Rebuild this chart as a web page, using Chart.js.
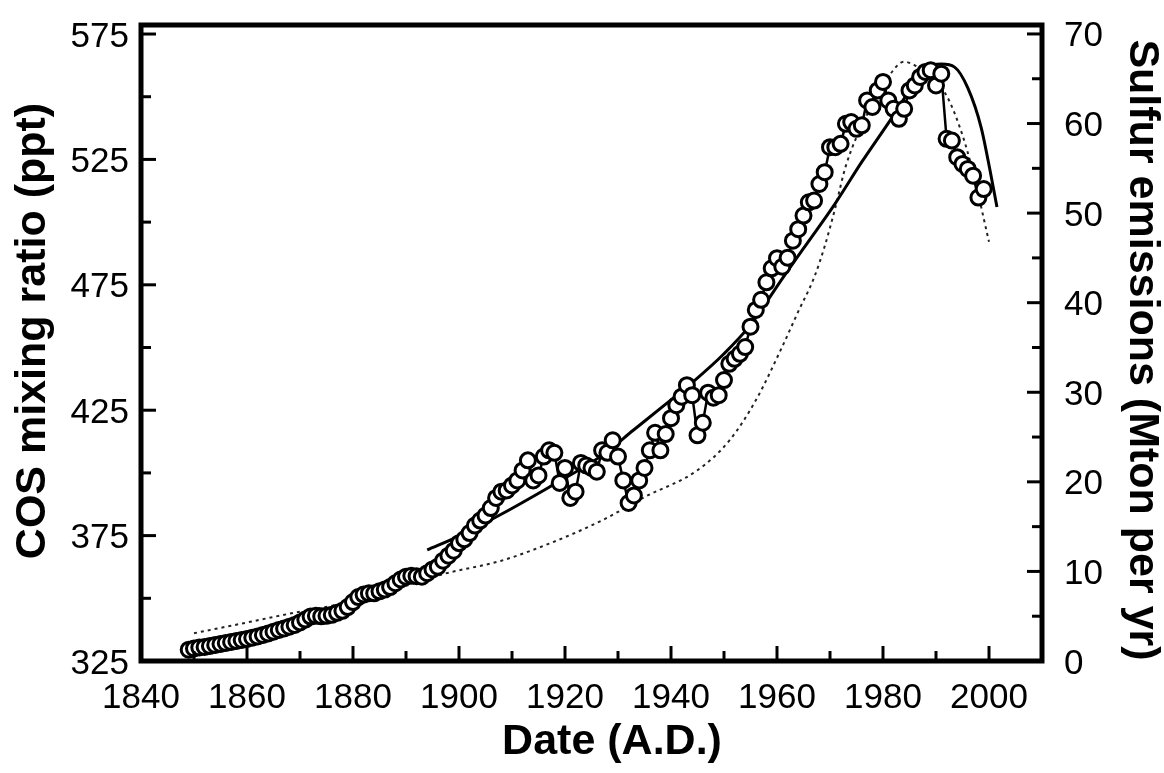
<!DOCTYPE html>
<html>
<head>
<meta charset="utf-8">
<script src="https://cdn.jsdelivr.net/npm/chart.js@4.4.1/dist/chart.umd.min.js"></script>
<style>
  html, body { margin: 0; padding: 0; background: #fff; }
  canvas { display: block; }
</style>
</head>
<body>
<canvas id="cos-chart" width="1164" height="773"></canvas>
<script>
// --- data ---
// COS measurements (open circles), left axis, ppt
const cosYears = [
  1849, 1850, 1851, 1852, 1853, 1854, 1855, 1856, 1857, 1858, 1859,
  1860, 1861, 1862, 1863, 1864, 1865, 1866, 1867, 1868, 1869,
  1870, 1871, 1872, 1873, 1874, 1875, 1876, 1877, 1878, 1879,
  1880, 1881, 1882, 1883, 1884, 1885, 1886, 1887, 1888, 1889,
  1890, 1891, 1892, 1893, 1894, 1895, 1896, 1897, 1898, 1899,
  1900, 1901, 1902, 1903, 1904, 1905, 1906, 1907, 1908, 1909,
  1910, 1911, 1912, 1913, 1914, 1915, 1916, 1917, 1918, 1919,
  1920, 1921, 1922, 1923, 1924, 1925, 1926, 1927, 1928, 1929,
  1930, 1931, 1932, 1933, 1934, 1935, 1936, 1937, 1938, 1939,
  1940, 1941, 1942, 1943, 1944, 1945, 1946, 1947, 1948, 1949,
  1950, 1951, 1952, 1953, 1954, 1955, 1956, 1957, 1958, 1959,
  1960, 1961, 1962, 1963, 1964, 1965, 1966, 1967, 1968, 1969,
  1970, 1971, 1972, 1973, 1974, 1975, 1976, 1977, 1978, 1979,
  1980, 1981, 1982, 1983, 1984, 1985, 1986, 1987, 1988, 1989,
  1990, 1991, 1992, 1993, 1994, 1995, 1996, 1997, 1998, 1999
];
const cosValues = [
  329.5, 330.0, 330.4, 330.6, 331.0, 331.4, 331.8, 332.2, 332.6, 333.0, 333.4,
  333.8, 334.3, 334.8, 335.4, 336.0, 336.7, 337.4, 338.0, 338.7, 339.4,
  340.4, 341.5, 342.7, 343.0, 342.8, 343.0, 343.4, 344.2, 345.0, 346.5,
  348.5, 350.5, 351.5, 352.0, 352.0, 352.8, 353.5, 354.5, 356.0, 357.5,
  358.6, 359.0, 358.8, 358.6, 360.0, 361.5, 362.6, 365.0, 367.0, 369.0,
  372.0, 373.5, 376.0, 379.0, 381.0, 383.0, 386.0, 390.0, 392.5, 393.0,
  395.0, 397.0, 401.0, 405.0, 397.0, 399.0, 406.5, 409.0, 408.0, 396.0,
  402.0, 390.0, 392.5, 404.0, 403.0, 402.0, 400.5, 409.0, 408.0, 413.0,
  406.5, 397.0, 388.0, 391.0, 397.0, 402.0, 409.0, 416.0, 409.0, 415.5,
  421.8, 427.0, 430.4, 435.0, 431.0, 415.0, 420.0, 432.0, 430.0, 431.0,
  437.0, 443.5, 445.5, 447.5, 450.2, 458.3, 465.0, 469.0, 476.0, 481.6,
  485.6, 482.2, 485.8, 492.6, 497.2, 502.6, 507.9, 508.6, 515.2, 519.9,
  529.9, 529.9, 531.2, 539.2, 539.9, 537.2, 538.6, 548.5, 545.9, 552.5,
  555.9, 548.5, 545.2, 541.2, 545.2, 552.5, 554.5, 557.9, 559.9, 560.6,
  554.5, 559.2, 533.2, 532.5, 525.9, 523.2, 521.2, 518.5, 509.8, 513.2
];

// solid curve, left axis, ppt
const modelYears  = [1894, 1900, 1907, 1917, 1927, 1933, 1939, 1944, 1950, 1955, 1961, 1965, 1971, 1976, 1981, 1986, 1988.5, 1991, 1993.5, 1996, 1998.5, 2000.2, 2001.5];
const modelValues = [369.3, 374.8, 382.4, 394.3, 407.0, 417.2, 427.4, 436.0, 447.5, 459.0, 477.5, 489.5, 507.5, 524.0, 539.5, 555.5, 561.8, 563.0, 561.8, 553.5, 537.9, 520.6, 506.0];

// dotted curve, right axis, Mton S per yr
const sulfurYears  = [1850, 1860, 1869, 1877, 1885, 1890, 1897, 1908, 1917, 1927, 1935, 1945, 1951, 1956, 1961, 1964, 1967, 1969, 1971, 1973, 1977, 1981, 1984, 1986, 1989, 1992, 1995, 1997, 2000];
const sulfurValues = [3.1, 4.3, 5.4, 6.3, 7.6, 8.4, 9.7, 11.2, 13.1, 15.7, 18.3, 21.3, 24.6, 29.1, 35.1, 39.0, 42.8, 46.3, 50.6, 55.3, 61.0, 65.2, 66.9, 66.5, 65.2, 63.1, 58.7, 54.5, 46.8];

// axis ticks
const xTickLabels = [1840, 1860, 1880, 1900, 1920, 1940, 1960, 1980, 2000];
const xMinorTicks = [1850, 1870, 1890, 1910, 1930, 1950, 1970, 1990];
const yTickLabels = [325, 375, 425, 475, 525, 575];
const yMinorTicks = [350, 400, 450, 500, 550];
const y2TickLabels = [0, 10, 20, 30, 40, 50, 60, 70];
const y2MinorTicks = [5, 15, 25, 35, 45, 55, 65];

const xTitle = 'Date (A.D.)';
const yTitle = 'COS mixing ratio (ppt)';
const y2Title = 'Sulfur emissions (Mton per yr)';

const toPoints = (xs, ys) => xs.map((x, i) => ({ x: x, y: ys[i] }));

// frame, inward ticks, tick labels and titles
const framePlugin = {
  id: 'frame',
  afterDatasetsDraw(chart) {
    const { ctx, chartArea: a, scales } = chart;
    const sx = scales.x, sy = scales.y, sy2 = scales.y2;
    ctx.save();
    ctx.strokeStyle = '#000';
    ctx.lineCap = 'butt';

    // ticks
    ctx.lineWidth = 3;
    const tick = (x1, y1, x2, y2) => { ctx.beginPath(); ctx.moveTo(x1, y1); ctx.lineTo(x2, y2); ctx.stroke(); };
    xTickLabels.forEach(v => { const x = sx.getPixelForValue(v); tick(x, a.bottom, x, a.bottom - 15); });
    xMinorTicks.forEach(v => { const x = sx.getPixelForValue(v); tick(x, a.bottom, x, a.bottom - 10); });
    yTickLabels.forEach(v => { const y = sy.getPixelForValue(v); tick(a.left, y, a.left + 15, y); });
    yMinorTicks.forEach(v => { const y = sy.getPixelForValue(v); tick(a.left, y, a.left + 10, y); });
    y2TickLabels.forEach(v => { const y = sy2.getPixelForValue(v); tick(a.right, y, a.right - 15, y); });
    y2MinorTicks.forEach(v => { const y = sy2.getPixelForValue(v); tick(a.right, y, a.right - 10, y); });

    // frame
    ctx.lineWidth = 5;
    ctx.lineJoin = 'miter';
    ctx.strokeRect(a.left, a.top, a.right - a.left, a.bottom - a.top);

    // tick labels
    ctx.fillStyle = '#000';
    ctx.font = '35px "Liberation Sans", Arial, sans-serif';
    ctx.textBaseline = 'alphabetic';
    ctx.textAlign = 'center';
    xTickLabels.forEach(v => ctx.fillText(String(v), sx.getPixelForValue(v), a.bottom + 47));
    ctx.textAlign = 'right';
    yTickLabels.forEach(v => ctx.fillText(String(v), a.left - 12, sy.getPixelForValue(v) + 12.5));
    ctx.textAlign = 'left';
    y2TickLabels.forEach(v => ctx.fillText(String(v), a.right + 22, sy2.getPixelForValue(v) + 12.5));

    // titles
    ctx.font = 'bold 43px "Liberation Sans", Arial, sans-serif';
    ctx.textAlign = 'center';
    ctx.textBaseline = 'middle';
    ctx.fillText(xTitle, 612, 742);

    ctx.save();
    ctx.translate(33, 331);
    ctx.rotate(-Math.PI / 2);
    ctx.fillText(yTitle, 0, 0);
    ctx.restore();

    ctx.save();
    ctx.translate(1142, 350);
    ctx.rotate(Math.PI / 2);
    ctx.fillText(y2Title, 0, 0);
    ctx.restore();

    ctx.restore();
  }
};

const ctx = document.getElementById('cos-chart').getContext('2d');

new Chart(ctx, {
  type: 'line',
  data: {
    datasets: [
      {
        label: 'COS',
        data: toPoints(cosYears, cosValues),
        yAxisID: 'y',
        borderColor: '#000',
        borderWidth: 2.5,
        pointRadius: 7.5,
        pointBorderWidth: 3,
        pointBorderColor: '#000',
        pointBackgroundColor: '#fff',
        tension: 0
      },
      {
        label: 'model',
        data: toPoints(modelYears, modelValues),
        yAxisID: 'y',
        borderColor: '#000',
        borderWidth: 3,
        pointRadius: 0,
        cubicInterpolationMode: 'monotone'
      },
      {
        label: 'sulfur',
        data: toPoints(sulfurYears, sulfurValues),
        yAxisID: 'y2',
        borderColor: '#222',
        borderWidth: 2,
        borderDash: [3, 4],
        pointRadius: 0,
        cubicInterpolationMode: 'monotone'
      }
    ]
  },
  options: {
    responsive: false,
    animation: false,
    layout: { padding: { top: 25, left: 0, right: 0, bottom: 0 } },
    plugins: {
      legend: { display: false },
      tooltip: { enabled: false }
    },
    scales: {
      x: {
        type: 'linear',
        min: 1840,
        max: 2010,
        grid: { display: false },
        border: { display: false },
        ticks: { display: false },
        afterFit: s => { s.height = 773 - 661; }
      },
      y: {
        position: 'left',
        min: 325,
        max: 578.6,
        grid: { display: false },
        border: { display: false },
        ticks: { display: false },
        afterFit: s => { s.width = 141; }
      },
      y2: {
        position: 'right',
        min: 0,
        max: 71,
        grid: { display: false },
        border: { display: false },
        ticks: { display: false },
        afterFit: s => { s.width = 1164 - 1042; }
      }
    }
  },
  plugins: [framePlugin]
});
</script>
</body>
</html>
